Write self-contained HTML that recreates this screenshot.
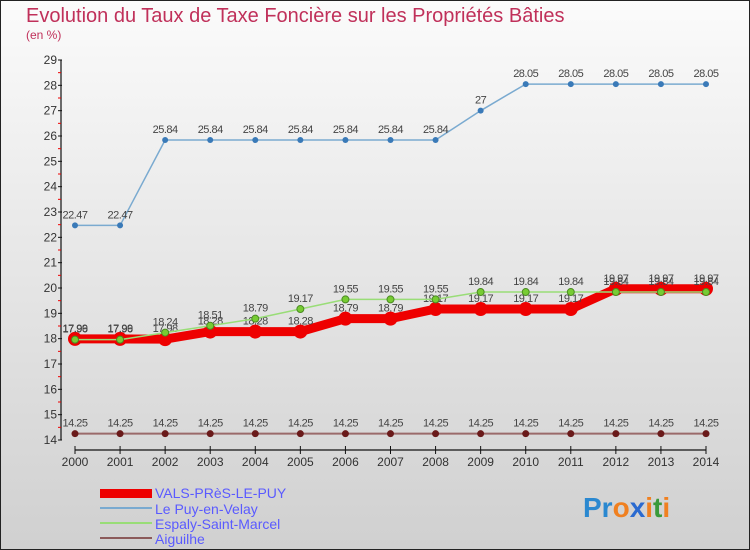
<!DOCTYPE html>
<html><head><meta charset="utf-8"><style>
body{margin:0;}
svg{display:block;font-family:"Liberation Sans",sans-serif;}
</style></head><body>
<svg id="c" width="750" height="550" viewBox="0 0 750 550">
<defs><linearGradient id="bg" x1="0" y1="0" x2="0" y2="1"><stop offset="0" stop-color="#fbfbfb"/><stop offset="1" stop-color="#d0d0d0"/></linearGradient></defs>
<rect x="0.5" y="0.5" width="749" height="549" fill="url(#bg)" stroke="#222"/>
<text x="26" y="22" font-size="20" fill="#c0305a">Evolution du Taux de Taxe Foncière sur les Propriétés Bâties</text>
<text x="26" y="39" font-size="12" fill="#c0305a">(en %)</text>
<g id="axes"></g><g id="series"></g>
<g>
<rect x="100" y="489" width="52" height="9" fill="#e00"/>
<text x="155" y="498" font-size="14" fill="#5a5aff">VALS-PRèS-LE-PUY</text>
<rect x="100" y="507" width="52" height="2" fill="#7aaad0"/>
<text x="155" y="514" font-size="14" fill="#5a5aff">Le Puy-en-Velay</text>
<rect x="100" y="522" width="52" height="2" fill="#99dd77"/>
<text x="155" y="529" font-size="14" fill="#5a5aff">Espaly-Saint-Marcel</text>
<rect x="100" y="537" width="52" height="2" fill="#8b5a5a"/>
<text x="155" y="544" font-size="14" fill="#5a5aff">Aiguilhe</text>
</g>
<text x="583" y="517" font-size="28" font-weight="bold"><tspan fill="#2a88d0">Pr</tspan><tspan fill="#f08020">o</tspan><tspan fill="#2a6ad0">x</tspan><tspan fill="#f08020">i</tspan><tspan fill="#3a9a3a">t</tspan><tspan fill="#f08020">i</tspan></text>
</svg>
<script>
const years=[2000,2001,2002,2003,2004,2005,2006,2007,2008,2009,2010,2011,2012,2013,2014];
const yTicks=[14,15,16,17,18,19,20,21,22,23,24,25,26,27,28,29];
const vals=[17.99,17.99,17.98,18.28,18.28,18.28,18.79,18.79,19.17,19.17,19.17,19.17,19.97,19.97,19.97];
const lepuy=[22.47,22.47,25.84,25.84,25.84,25.84,25.84,25.84,25.84,27,28.05,28.05,28.05,28.05,28.05];
const espaly=[17.96,17.96,18.24,18.51,18.79,19.17,19.55,19.55,19.55,19.84,19.84,19.84,19.84,19.84,19.84];
const aiguilhe=[14.25,14.25,14.25,14.25,14.25,14.25,14.25,14.25,14.25,14.25,14.25,14.25,14.25,14.25,14.25];
const NS="http://www.w3.org/2000/svg";
const X=y=>75+(y-2000)*(706-75)/14;
const Y=v=>440-(v-14)*(380/15);
function el(t,a,p){const e=document.createElementNS(NS,t);for(const k in a)e.setAttribute(k,a[k]);p.appendChild(e);return e;}
const ax=document.getElementById('axes');
let e=el('line',{x1:61,y1:Y(29),x2:61,y2:Y(14),stroke:'#111','stroke-width':1.2},ax);


e=el('line',{x1:75,y1:450,x2:706,y2:450,stroke:'#111','stroke-width':1.2},ax);


yTicks.forEach(v=>{
 el('line',{x1:58,y1:Y(v),x2:62,y2:Y(v),stroke:'#111'},ax);
 if(v<29)el('line',{x1:58,y1:Y(v+0.5),x2:61,y2:Y(v+0.5),stroke:'#e00'},ax);
 const t=el('text',{x:57,y:Y(v)+4,'font-size':12,fill:'#333','text-anchor':'end'},ax);t.textContent=v;
 
 
});
years.forEach(y=>{
 el('line',{x1:X(y),y1:446,x2:X(y),y2:454,stroke:'#111'},ax);
 const t=el('text',{x:X(y),y:466,'font-size':12,fill:'#333','text-anchor':'middle'},ax);t.textContent=y;
 
 
});
const sg=document.getElementById('series');
function series(name,data,color,w,r,dot,dotStroke){
 const g=el('g',{},sg);
 
 
 const p=el('polyline',{points:data.map((v,i)=>X(years[i])+','+Y(v)).join(' '),fill:'none',stroke:color,'stroke-width':w},g);
 
 
 data.forEach((v,i)=>{
  const c=el('circle',{cx:X(years[i]),cy:Y(v),r:r,fill:dot,stroke:dotStroke||'none','stroke-width':1},g);
  
  
  const t=el('text',{x:X(years[i]),y:Y(v)-7,'font-size':11,fill:'#444','text-anchor':'middle','letter-spacing':'-0.5'},g);t.textContent=v;
  
  
 });
}
series('aiguilhe',aiguilhe,'#9a6a6a',2,3.5,'#6a1a1a');
series('lepuy',lepuy,'#7aaad0',1.5,3,'#3a7ab8');
series('vals',vals,'#e00',9,7,'#e00');
series('espaly',espaly,'#99dd77',1.5,3.5,'#77cc33','#4a8a22');
</script>
</body></html>
